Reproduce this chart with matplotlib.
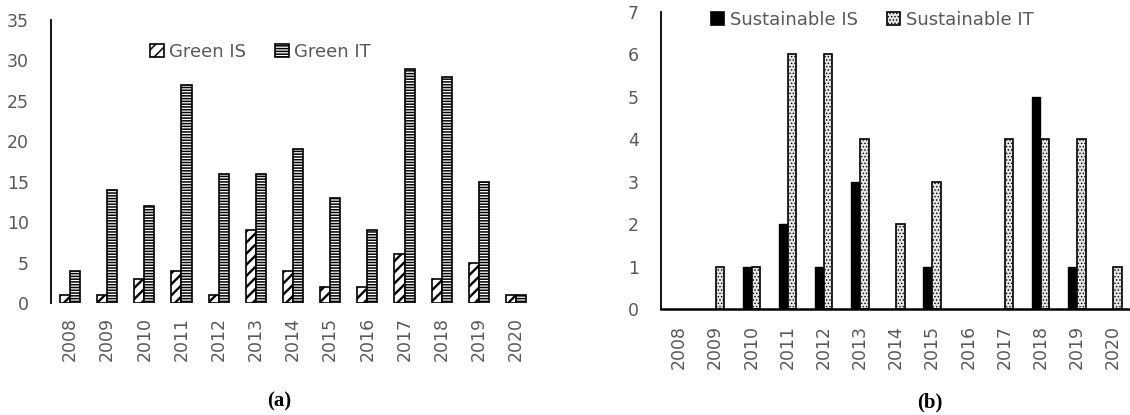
import numpy as np
import matplotlib
matplotlib.use("Agg")
import matplotlib.pyplot as plt

# ---- data -------------------------------------------------------------
years = ["2008", "2009", "2010", "2011", "2012", "2013", "2014",
         "2015", "2016", "2017", "2018", "2019", "2020"]
green_is = [1, 1, 3, 4, 1, 9, 4, 2, 2, 6, 3, 5, 1]
green_it = [4, 14, 12, 27, 16, 16, 19, 13, 9, 29, 28, 15, 1]
sust_is = [0, 0, 1, 2, 1, 3, 0, 1, 0, 0, 5, 1, 0]
sust_it = [0, 1, 1, 6, 6, 4, 2, 3, 0, 4, 4, 4, 1]

W, H = 1130, 415
TXT = "#595959"
plt.rcParams["font.family"] = ["DejaVu Sans"]

fig = plt.figure(figsize=(W / 100, H / 100), dpi=100)


def px_axes(x0, x1, y_top, y_bot):
    return fig.add_axes([x0 / W, 1 - y_bot / H, (x1 - x0) / W, (y_bot - y_top) / H])


def edge_widths(values, lw):
    # empty years get no outline so nothing pokes out of the baseline
    return [lw if v > 0 else 0 for v in values]


x = np.arange(len(years))

# ---- (a) Green IS / Green IT -----------------------------------------
axa = px_axes(51.4, 534.6, 20, 303)
bw = 0.27
plt.rcParams["hatch.linewidth"] = 1.7
axa.bar(x - bw / 2, green_is, bw, color="white", edgecolor="black",
        linewidth=1.2, hatch="///", label="Green IS")
plt.rcParams["hatch.linewidth"] = 1.1
axa.bar(x + bw / 2, green_it, bw, color="white", edgecolor="black",
        linewidth=1.2, hatch="------", label="Green IT")
axa.set_xlim(-0.5, len(years) - 0.5)
axa.set_ylim(0, 35)
axa.set_yticks(range(0, 36, 5))
axa.set_xticks(x)
axa.set_xticklabels(years, rotation=90)
for s in ("top", "right", "bottom"):
    axa.spines[s].set_visible(False)
axa.spines["left"].set_linewidth(1.3)
axa.tick_params(axis="y", length=0, pad=16, labelsize=12.5, labelcolor=TXT)
axa.tick_params(axis="x", length=0, pad=10, labelsize=12.5, labelcolor=TXT)

fig.legend(*axa.get_legend_handles_labels(), loc="center",
           bbox_to_anchor=(260.5 / W, 1 - 52 / H), bbox_transform=fig.transFigure,
           ncol=2, frameon=False, fontsize=13, labelcolor=TXT,
           handlelength=0.75, handleheight=0.75, handletextpad=0.3,
           columnspacing=1.6, borderpad=0, borderaxespad=0)

# ---- (b) Sustainable IS / Sustainable IT -----------------------------
axb = px_axes(661, 1131, 11.7, 309.3)
bw2 = 0.235
axb.bar(x - 0.125, sust_is, bw2, color="black", edgecolor="black",
        linewidth=edge_widths(sust_is, 1.0), label="Sustainable IS")
plt.rcParams["hatch.linewidth"] = 0.6
axb.bar(x + 0.125, sust_it, bw2, color="#e4e4e4", edgecolor="black",
        linewidth=edge_widths(sust_it, 1.2), hatch=".....", label="Sustainable IT")
axb.set_xlim(-0.5, len(years) - 0.5)
axb.set_ylim(0, 7)
axb.set_yticks(range(0, 8))
axb.set_xticks(x)
axb.set_xticklabels(years, rotation=90)
for s in ("top", "right"):
    axb.spines[s].set_visible(False)
axb.spines["left"].set_linewidth(1.3)
axb.spines["bottom"].set_linewidth(1.8)
axb.tick_params(axis="y", length=0, pad=16, labelsize=12.5, labelcolor=TXT)
axb.tick_params(axis="x", length=0, pad=11.5, labelsize=12.5, labelcolor=TXT)

handles, labels = axb.get_legend_handles_labels()
leg_b = fig.legend(handles, labels, loc="center",
                   bbox_to_anchor=(872 / W, 1 - 20 / H), bbox_transform=fig.transFigure,
                   ncol=2, frameon=False, fontsize=13, labelcolor=TXT,
                   handlelength=0.75, handleheight=0.75, handletextpad=0.3,
                   columnspacing=1.6, borderpad=0, borderaxespad=0)
for h in leg_b.legend_handles:
    h.set_linewidth(1.2)
    h.set_edgecolor("black")

# ---- panel captions ---------------------------------------------------
fig.text(279 / W, 1 - 401 / H, "(a)", ha="center", va="center",
         fontsize=15, fontweight="bold", family="Liberation Serif")
fig.text(930 / W, 1 - 402 / H, "(b)", ha="center", va="center",
         fontsize=15, fontweight="bold", family="Liberation Serif")

fig.savefig("out.png", dpi=100)
